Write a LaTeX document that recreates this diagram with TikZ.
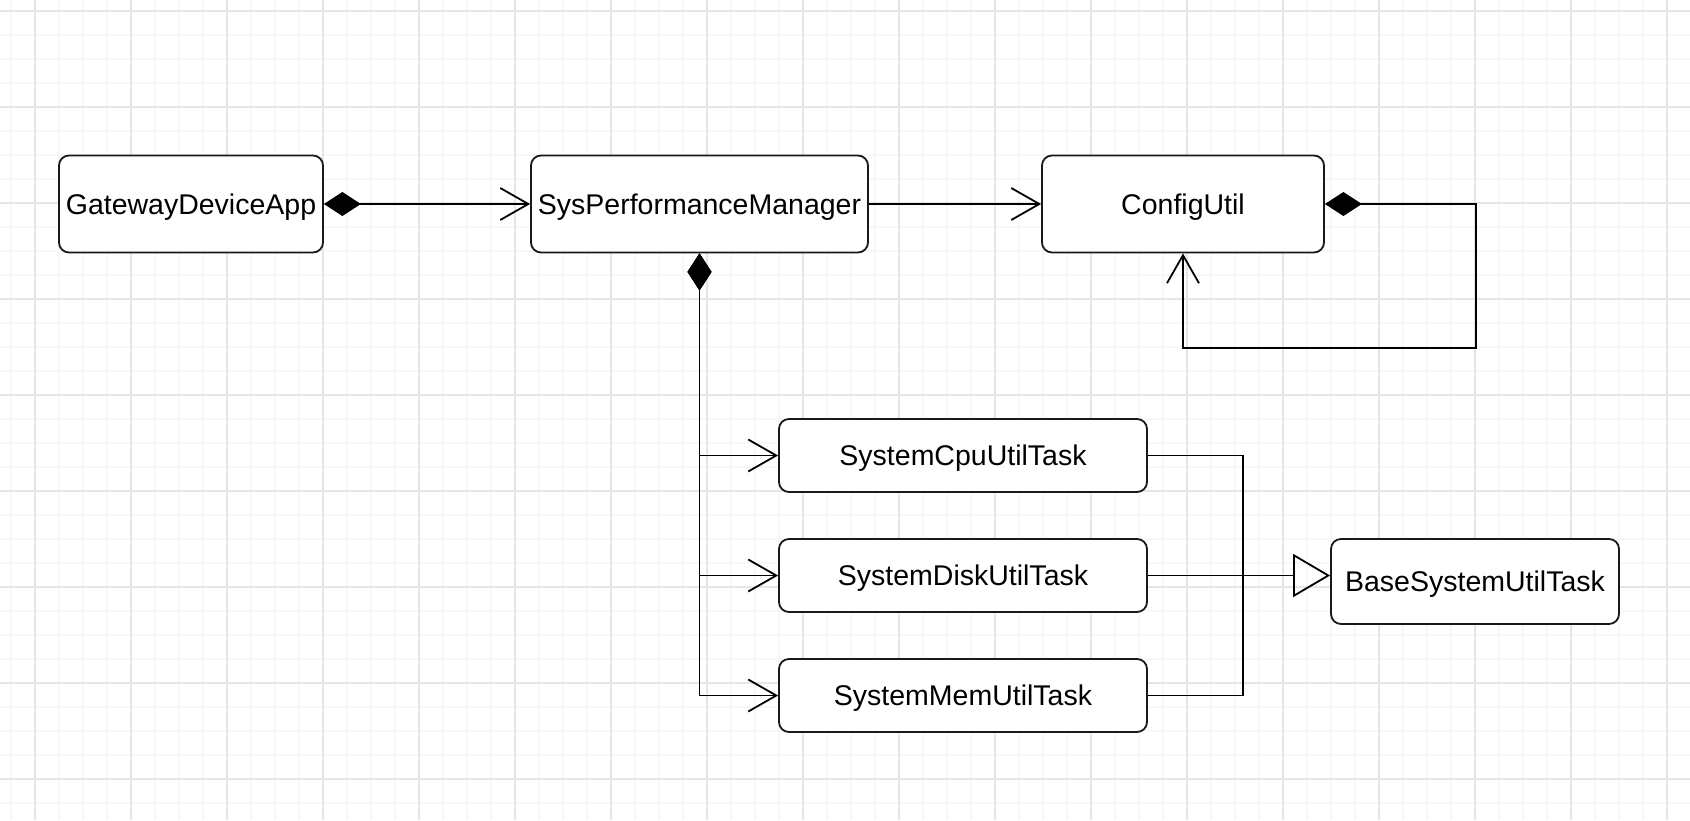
\documentclass[tikz,border=0pt]{standalone}
\usepackage{fontspec}
\setmainfont{Liberation Sans}
\usetikzlibrary{arrows.meta, positioning}

\definecolor{majorgray}{RGB}{230,230,230}
\definecolor{minorgray}{RGB}{247,247,247}

\begin{document}
\begin{tikzpicture}[x=1pt, y=-1pt,
    cls/.style={rectangle, draw=black!90, line width=1.8pt, rounded corners=10pt, fill=white, inner sep=0pt, text height=20pt, text depth=0pt, font=\fontsize{28.5pt}{34pt}\selectfont, align=center},
    comp/.style={line width=1.8pt, {Diamond[length=37pt, width=24pt]}-{Straight Barb[length=28pt, width=32pt]}},
    assoc/.style={line width=1.8pt, -{Straight Barb[length=28pt, width=32pt]}},
    gen/.style={line width=1.8pt, -{Triangle[open, length=37pt, width=43pt]}},
    bus/.style={line width=1.8pt},
    minorgrid/.style={minorgray, line width=2.5pt},
    majorgrid/.style={majorgray, line width=1.5pt}]

      \useasboundingbox (0,0) rectangle (1690,820);
      \fill[white] (0,0) rectangle (1690,820);

      % Grid
      \foreach \x in {11,35,...,1690} \draw[minorgrid] (\x,0) -- (\x,820);
      \foreach \y in {11,35,...,820} \draw[minorgrid] (0,\y) -- (1690,\y);
      \foreach \x in {35,131,...,1690} \draw[majorgrid] (\x,0) -- (\x,820);
      \foreach \y in {11,107,...,820} \draw[majorgrid] (0,\y) -- (1690,\y);

      % Top row
      \node[cls, minimum width=264pt, minimum height=97pt] (gw) at (191,204) {GatewayDeviceApp};
      \node[cls, minimum width=337pt, minimum height=97pt] (spm) at (699.5,204) {SysPerformanceManager};
      \node[cls, minimum width=282pt, minimum height=97pt] (cfg) at (1183,204) {ConfigUtil};

      % Tasks
      \node[cls, minimum width=368pt, minimum height=73pt] (cpu) at (963,455.5) {SystemCpuUtilTask};
      \node[cls, minimum width=368pt, minimum height=73pt] (disk) at (963,575.5) {SystemDiskUtilTask};
      \node[cls, minimum width=368pt, minimum height=73pt] (mem) at (963,695.5) {SystemMemUtilTask};

      % Base class
      \node[cls, minimum width=288pt, minimum height=85pt] (base) at (1475,581.5) {BaseSystemUtilTask};
      \coordinate (join) at (1243,575.5);

      % Arrows
      \draw[comp] (gw.east) -- (spm.west);
      \draw[assoc] (spm.east) -- (cfg.west);
      \draw[comp] (cfg.east) -- ++(151,0) -- ++(0,144) -| (cfg.south);
      \draw[comp] (spm.south) |- (cpu.west);
      \draw[comp] (spm.south) |- (disk.west);
      \draw[comp] (spm.south) |- (mem.west);
      \draw[bus] (cpu.east) -| (join);
      \draw[bus] (mem.east) -| (join);
      \draw[gen] (disk.east) -- (disk.east -| base.west);
    \end{tikzpicture}
\end{document}
